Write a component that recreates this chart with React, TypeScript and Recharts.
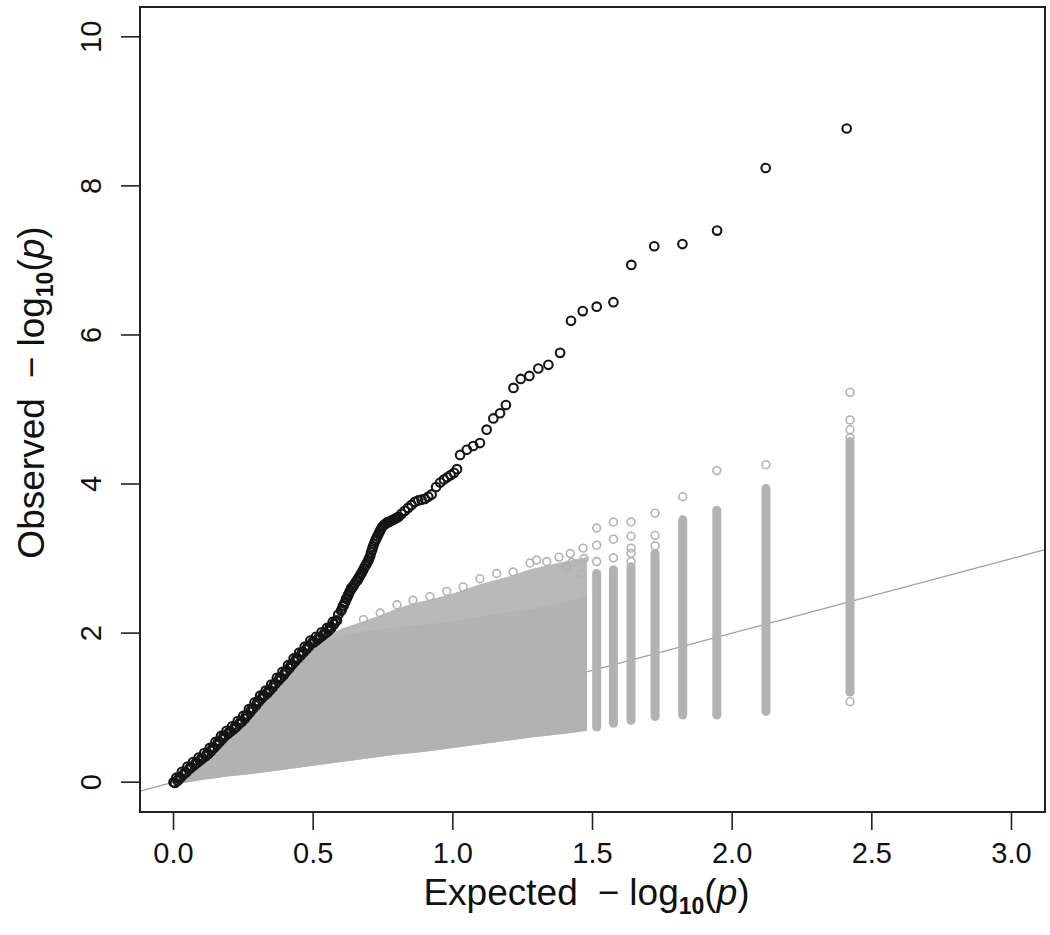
import React from 'react';
import { ComposedChart, XAxis, YAxis, Scatter, Line, Area, ReferenceArea, Label } from 'recharts';

const W = 1050;
const H = 935;

const xTicks = [0, 0.5, 1, 1.5, 2, 2.5, 3];
const yTicks = [0, 2, 4, 6, 8, 10];
const xDomain = [-0.12, 3.12];
const yDomain = [-0.4, 10.4];

// black (observed) points: dense lower band, upper-left row
const blackBandX = [0.00, 0.01, 0.02, 0.03, 0.04, 0.05, 0.06, 0.07, 0.08, 0.09, 0.10, 0.11, 0.12, 0.13, 0.14, 0.15, 0.16, 0.17, 0.18, 0.19, 0.20, 0.21, 0.22, 0.23, 0.24, 0.25, 0.26, 0.27, 0.28, 0.29, 0.30, 0.31, 0.32, 0.33, 0.34, 0.35, 0.36, 0.37, 0.38, 0.39, 0.40, 0.41, 0.42, 0.43, 0.44, 0.45, 0.46, 0.47, 0.48, 0.49, 0.50, 0.51, 0.52, 0.53, 0.54, 0.55, 0.56, 0.57, 0.58, 0.59];
const blackBandY = [0.00, 0.06, 0.06, 0.14, 0.13, 0.21, 0.20, 0.27, 0.26, 0.33, 0.32, 0.39, 0.38, 0.46, 0.46, 0.54, 0.54, 0.62, 0.62, 0.69, 0.68, 0.75, 0.74, 0.82, 0.81, 0.89, 0.89, 0.98, 0.98, 1.07, 1.07, 1.16, 1.16, 1.23, 1.23, 1.31, 1.31, 1.40, 1.40, 1.48, 1.48, 1.57, 1.57, 1.66, 1.66, 1.74, 1.74, 1.82, 1.82, 1.90, 1.89, 1.95, 1.94, 2.01, 2.00, 2.07, 2.07, 2.15, 2.16, 2.25];
// black points: dense lower band, lower-right row
const blackBand2X = [0.005, 0.015, 0.025, 0.035, 0.045, 0.055, 0.065, 0.075, 0.085, 0.095, 0.105, 0.115, 0.125, 0.135, 0.145, 0.155, 0.165, 0.175, 0.185, 0.195, 0.205, 0.215, 0.225, 0.235, 0.245, 0.255, 0.265, 0.275, 0.285, 0.295, 0.305, 0.315, 0.325, 0.335, 0.345, 0.355, 0.365, 0.375, 0.385, 0.395, 0.405, 0.415, 0.425, 0.435, 0.445, 0.455, 0.465, 0.475, 0.485, 0.495, 0.505, 0.515, 0.525, 0.535, 0.545, 0.555, 0.565, 0.575, 0.585];
const blackBand2Y = [-0.01, 0.02, 0.06, 0.10, 0.13, 0.17, 0.20, 0.23, 0.26, 0.29, 0.32, 0.35, 0.38, 0.42, 0.46, 0.50, 0.54, 0.58, 0.62, 0.65, 0.68, 0.71, 0.74, 0.78, 0.81, 0.85, 0.90, 0.94, 0.99, 1.03, 1.08, 1.12, 1.16, 1.19, 1.23, 1.27, 1.32, 1.36, 1.40, 1.44, 1.49, 1.53, 1.58, 1.62, 1.66, 1.70, 1.74, 1.78, 1.82, 1.86, 1.88, 1.91, 1.94, 1.97, 2.00, 2.03, 2.07, 2.12, 2.17];
// black points: upper part
const blackTopX = [0.600, 0.606, 0.612, 0.618, 0.624, 0.630, 0.636, 0.645, 0.655, 0.662, 0.670, 0.678, 0.686, 0.694, 0.700, 0.707, 0.714, 0.722, 0.730, 0.738, 0.746, 0.756, 0.766, 0.776, 0.786, 0.796, 0.806, 0.816, 0.828, 0.840, 0.852, 0.864, 0.876, 0.888, 0.900, 0.912, 0.924, 0.940, 0.955, 0.968, 0.980, 0.992, 1.004, 1.015, 1.026, 1.050, 1.073, 1.097, 1.121, 1.145, 1.169, 1.190, 1.217, 1.243, 1.274, 1.306, 1.342, 1.384, 1.423, 1.465, 1.515, 1.575, 1.639, 1.721, 1.822, 1.946, 2.120, 2.410];
const blackTopY = [2.30, 2.36, 2.40, 2.46, 2.50, 2.55, 2.60, 2.64, 2.70, 2.74, 2.79, 2.84, 2.90, 2.95, 3.00, 3.08, 3.16, 3.24, 3.30, 3.36, 3.42, 3.46, 3.49, 3.50, 3.52, 3.54, 3.56, 3.60, 3.64, 3.68, 3.72, 3.76, 3.78, 3.79, 3.80, 3.83, 3.86, 3.96, 4.02, 4.06, 4.09, 4.12, 4.15, 4.20, 4.39, 4.46, 4.51, 4.55, 4.73, 4.88, 4.95, 5.06, 5.29, 5.41, 5.45, 5.55, 5.60, 5.76, 6.19, 6.32, 6.38, 6.44, 6.94, 7.19, 7.22, 7.40, 8.24, 8.77];
// black points: extra row in the dense part between 0.6 and 0.8
const blackMidX = [0.603, 0.609, 0.615, 0.621, 0.627, 0.633, 0.640, 0.650, 0.659, 0.666, 0.674, 0.682, 0.690, 0.697, 0.704, 0.711, 0.718, 0.726, 0.734, 0.742, 0.751, 0.761, 0.771, 0.781, 0.791, 0.801];
const blackMidY = [2.32, 2.37, 2.42, 2.47, 2.52, 2.57, 2.61, 2.67, 2.71, 2.76, 2.81, 2.87, 2.92, 2.97, 3.03, 3.12, 3.20, 3.27, 3.33, 3.39, 3.44, 3.47, 3.49, 3.51, 3.53, 3.55];

// gray (permutation) cloud: wedge below x = 1.48
const wedgeX = [0.00, 0.05, 0.10, 0.20, 0.30, 0.40, 0.50, 0.56, 0.60, 0.68, 0.74, 0.80, 0.86, 0.92, 1.00, 1.10, 1.20, 1.28, 1.40, 1.48];
const wedgeLow = [-0.03, 0.00, 0.03, 0.08, 0.12, 0.17, 0.22, 0.25, 0.27, 0.31, 0.34, 0.37, 0.39, 0.42, 0.46, 0.51, 0.56, 0.60, 0.65, 0.69];
const wedgeOuter = [0.00, 0.15, 0.30, 0.64, 1.03, 1.44, 1.82, 1.98, 2.06, 2.16, 2.24, 2.33, 2.40, 2.45, 2.53, 2.66, 2.76, 2.86, 2.96, 3.02];
const wedgeCore = [0.00, 0.15, 0.30, 0.64, 1.03, 1.44, 1.80, 1.92, 1.96, 2.02, 2.05, 2.08, 2.10, 2.12, 2.16, 2.22, 2.28, 2.32, 2.42, 2.50];

// gray fringe circles along the top of the wedge
const fringeX = [0.68, 0.74, 0.80, 0.857, 0.918, 0.978, 1.037, 1.097, 1.157, 1.216, 1.276, 1.30, 1.336, 1.38, 1.408, 1.42, 1.426, 1.46, 1.466, 1.47];
const fringeY = [2.18, 2.27, 2.38, 2.44, 2.49, 2.56, 2.62, 2.73, 2.80, 2.82, 2.94, 2.98, 2.96, 3.02, 2.89, 3.07, 2.95, 2.80, 3.14, 3.00];

// gray vertical columns (tied ranks at top expected values)
const stripX = [1.515, 1.575, 1.638, 1.724, 1.823, 1.945, 2.121, 2.422];
const stripLow = [0.74, 0.79, 0.83, 0.88, 0.90, 0.90, 0.95, 1.21];
const stripHigh = [2.80, 2.85, 2.89, 3.07, 3.52, 3.65, 3.94, 4.57];

// gray isolated circles above / below the columns
const grayOutX = [1.515, 1.515, 1.515, 1.575, 1.575, 1.575, 1.638, 1.638, 1.638, 1.638, 1.638, 1.724, 1.724, 1.724, 1.823, 1.945, 2.121, 2.422, 2.422, 2.422, 2.422, 2.422];
const grayOutY = [2.96, 3.18, 3.41, 3.01, 3.26, 3.49, 2.96, 3.07, 3.14, 3.30, 3.49, 3.17, 3.31, 3.61, 3.83, 4.18, 4.26, 1.08, 4.62, 4.73, 4.86, 5.23];

const diagX = [-0.12, 3.12];

const FONT = '"Liberation Sans", Arial, Helvetica, sans-serif';
const GRAY = '#b2b2b2';
const BLACK = '#151515';

const wedgeData = wedgeX.map((x, i) => ({ x, outer: [wedgeLow[i], wedgeOuter[i]], core: [wedgeLow[i], wedgeCore[i]] }));
const blackPts = [
  ...blackBandX.map((x, i) => ({ x, y: blackBandY[i] })),
  ...blackBand2X.map((x, i) => ({ x, y: blackBand2Y[i] })),
  ...blackMidX.map((x, i) => ({ x, y: blackMidY[i] })),
  ...blackTopX.map((x, i) => ({ x, y: blackTopY[i] })),
];
const grayPts = [
  ...fringeX.map((x, i) => ({ x, y: fringeY[i] })),
  ...grayOutX.map((x, i) => ({ x, y: grayOutY[i] })),
];
const strips = stripX.map((x, i) => [{ x, y: stripLow[i] }, { x, y: stripHigh[i] }]);
const diag = diagX.map((x) => ({ x, y: x }));

const BlackCircle = (p: any) => <circle cx={p.cx} cy={p.cy} r={4.3} fill="none" stroke={BLACK} strokeWidth={2.1} />;
const GrayCircle = (p: any) => <circle cx={p.cx} cy={p.cy} r={3.9} fill="none" stroke={GRAY} strokeWidth={1.6} />;

const XTick = (p: any) => (
  <text x={p.x} y={p.y + 31} textAnchor="middle" fontSize={29} fontFamily={FONT} fill="#111">
    {Number(p.payload.value).toFixed(1)}
  </text>
);

const YTick = (p: any) => (
  <text
    x={p.x - 18}
    y={p.y}
    transform={`rotate(-90, ${p.x - 18}, ${p.y})`}
    textAnchor="middle"
    fontSize={29}
    fontFamily={FONT}
    fill="#111"
  >
    {String(p.payload.value)}
  </text>
);

const TitleBody = ({ word }: { word: string }) => (
  <>
    <tspan>{word}</tspan>
    <tspan dx={20}>−</tspan>
    <tspan dx={10}>log</tspan>
    <tspan fontSize={23} fontWeight="bold" dy={9}>10</tspan>
    <tspan dy={-9}>(</tspan>
    <tspan fontStyle="italic">p</tspan>
    <tspan>)</tspan>
  </>
);

const XTitle = (p: any) => {
  const vb = p.viewBox || { x: 140, y: 812, width: 905, height: 123 };
  const cx = vb.x + vb.width / 2 - 6;
  const by = vb.y + 93;
  return (
    <text x={cx} y={by} textAnchor="middle" fontSize={37} fontFamily={FONT} fill="#111">
      <TitleBody word="Expected" />
    </text>
  );
};

const YTitle = (p: any) => {
  const vb = p.viewBox || { x: 0, y: 7, width: 140, height: 805 };
  const bx = vb.x + 44;
  const cy = vb.y + vb.height / 2 - 17;
  return (
    <text x={bx} y={cy} transform={`rotate(-90, ${bx}, ${cy})`} textAnchor="middle" fontSize={37} fontFamily={FONT} fill="#111">
      <TitleBody word="Observed" />
    </text>
  );
};

export default function App() {
  return (
    <div style={{ position: 'absolute', left: 0, top: 0, width: W, height: H, background: '#fff' }}>
      <ComposedChart width={W} height={H} data={wedgeData} margin={{ top: 7, right: 5, bottom: 0, left: 0 }}>
        <XAxis
          type="number"
          dataKey="x"
          domain={xDomain}
          ticks={xTicks}
          interval={0}
          allowDataOverflow
          height={123}
          tickSize={18}
          tickLine={{ stroke: '#222', strokeWidth: 1.6 }}
          axisLine={{ stroke: '#222', strokeWidth: 2 }}
          tick={<XTick />}
        >
          <Label content={<XTitle />} />
        </XAxis>
        <YAxis
          type="number"
          domain={yDomain}
          ticks={yTicks}
          interval={0}
          allowDataOverflow
          width={140}
          tickSize={19}
          tickLine={{ stroke: '#222', strokeWidth: 1.6 }}
          axisLine={{ stroke: '#222', strokeWidth: 2 }}
          tick={<YTick />}
        >
          <Label content={<YTitle />} />
        </YAxis>
        <Line data={diag} dataKey="y" stroke="#9c9c9c" strokeWidth={1.2} dot={false} activeDot={false} isAnimationActive={false} zIndex={50} />
        <Area dataKey="outer" type="linear" stroke="none" fill="#b9b9b9" fillOpacity={1} dot={false} activeDot={false} isAnimationActive={false} />
        <Area dataKey="core" type="linear" stroke="none" fill={GRAY} fillOpacity={1} dot={false} activeDot={false} isAnimationActive={false} />
        {strips.map((s, i) => (
          <Line key={`strip-${i}`} data={s} dataKey="y" stroke={GRAY} strokeWidth={9} strokeLinecap="round" dot={false} activeDot={false} isAnimationActive={false} />
        ))}
        <Scatter data={grayPts} dataKey="y" shape={GrayCircle} isAnimationActive={false} />
        <Scatter data={blackPts} dataKey="y" shape={BlackCircle} isAnimationActive={false} />
        <ReferenceArea x1={xDomain[0]} x2={xDomain[1]} y1={yDomain[0]} y2={yDomain[1]} fill="none" stroke="#222" strokeWidth={2} ifOverflow="visible" />
      </ComposedChart>
    </div>
  );
}
